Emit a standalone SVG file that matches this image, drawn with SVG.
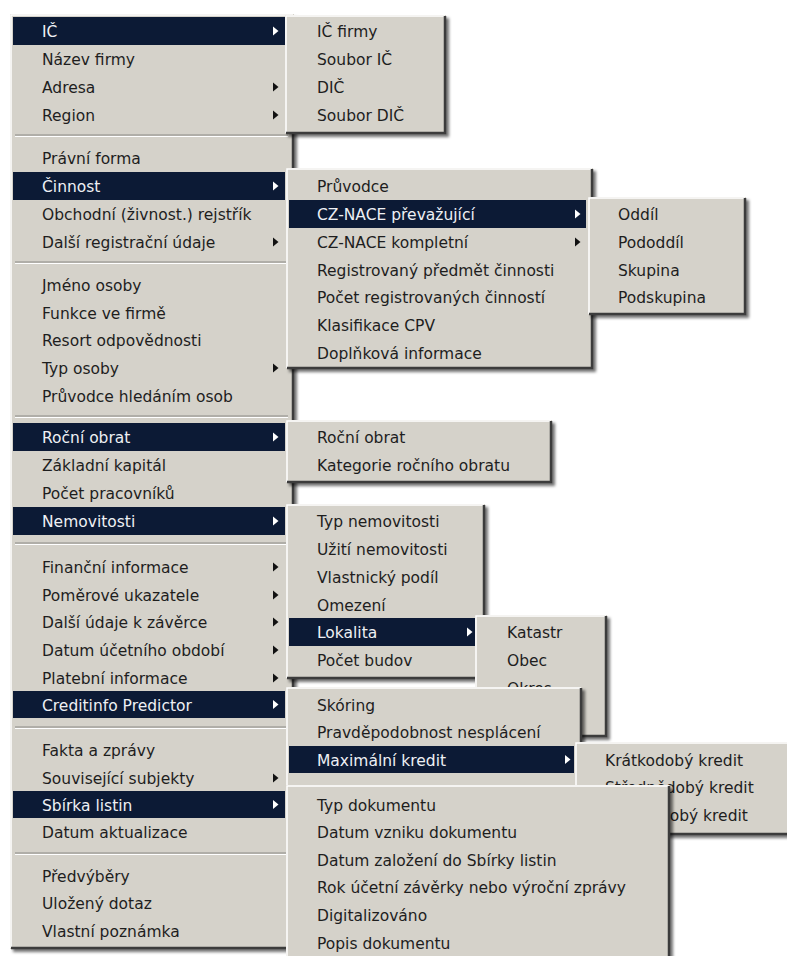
<svg xmlns="http://www.w3.org/2000/svg" width="787" height="956" viewBox="0 0 787 956">
<defs>
<style>
.box{fill:#d5d2ca;filter:url(#sh)}
.lt{fill:none;stroke:#ffffff;stroke-width:1.5}
.dk{fill:none;stroke:#3c3c3c;stroke-width:2.5}
.hl{fill:#0c1a35}
.sep1{stroke:#8c8a86;stroke-width:1.2}
.sep2{stroke:#ffffff;stroke-width:1}
.t{font-family:"DejaVu Sans",Verdana,sans-serif;font-size:15.5px;fill:#1e1e1e}
.w{fill:#eef0f4}
.ar{fill:#111111}
.aw{fill:#ffffff}
</style>
<filter id="sh" x="-5%" y="-5%" width="115%" height="115%">
<feDropShadow dx="3" dy="3" stdDeviation="1.6" flood-color="#000" flood-opacity="0.55"/>
</filter>
</defs>
<rect width="787" height="956" fill="#ffffff"/>

<g id="menu-main">
<rect class="box" x="10" y="14" width="284" height="935"/>
<path class="lt" d="M11,948 V15 H293"/>
<path class="dk" d="M293,15 V948 H11"/>
<rect class="hl" x="13" y="17" width="272" height="28"/>
<rect class="hl" x="13" y="172" width="272" height="28"/>
<rect class="hl" x="13" y="423" width="272" height="28"/>
<rect class="hl" x="13" y="507" width="272" height="28"/>
<rect class="hl" x="13" y="691" width="272" height="27"/>
<rect class="hl" x="13" y="791" width="272" height="27"/>
<g>
<line class="sep1" x1="15" y1="135" x2="288" y2="135"/><line class="sep2" x1="15" y1="136.5" x2="288" y2="136.5"/>
<line class="sep1" x1="15" y1="262" x2="288" y2="262"/><line class="sep2" x1="15" y1="263.5" x2="288" y2="263.5"/>
<line class="sep1" x1="15" y1="416" x2="288" y2="416"/><line class="sep2" x1="15" y1="417.5" x2="288" y2="417.5"/>
<line class="sep1" x1="15" y1="543" x2="288" y2="543"/><line class="sep2" x1="15" y1="544.5" x2="288" y2="544.5"/>
<line class="sep1" x1="15" y1="727" x2="288" y2="727"/><line class="sep2" x1="15" y1="728.5" x2="288" y2="728.5"/>
<line class="sep1" x1="15" y1="853" x2="288" y2="853"/><line class="sep2" x1="15" y1="854.5" x2="288" y2="854.5"/>
</g>
<text class="t w" x="42" y="37">IČ</text>
<text class="t" x="42" y="65">Název firmy</text>
<text class="t" x="42" y="93">Adresa</text>
<text class="t" x="42" y="121">Region</text>
<text class="t" x="42" y="164">Právní forma</text>
<text class="t w" x="42" y="192">Činnost</text>
<text class="t" x="42" y="220">Obchodní (živnost.) rejstřík</text>
<text class="t" x="42" y="248">Další registrační údaje</text>
<text class="t" x="42" y="291">Jméno osoby</text>
<text class="t" x="42" y="319">Funkce ve firmě</text>
<text class="t" x="42" y="346">Resort odpovědnosti</text>
<text class="t" x="42" y="374">Typ osoby</text>
<text class="t" x="42" y="402">Průvodce hledáním osob</text>
<text class="t w" x="42" y="443">Roční obrat</text>
<text class="t" x="42" y="471">Základní kapitál</text>
<text class="t" x="42" y="499">Počet pracovníků</text>
<text class="t w" x="42" y="527">Nemovitosti</text>
<text class="t" x="42" y="573">Finanční informace</text>
<text class="t" x="42" y="601">Poměrové ukazatele</text>
<text class="t" x="42" y="628">Další údaje k závěrce</text>
<text class="t" x="42" y="656">Datum účetního období</text>
<text class="t" x="42" y="684">Platební informace</text>
<text class="t w" x="42" y="711">Creditinfo Predictor</text>
<text class="t" x="42" y="756">Fakta a zprávy</text>
<text class="t" x="42" y="784">Související subjekty</text>
<text class="t w" x="42" y="811">Sbírka listin</text>
<text class="t" x="42" y="838">Datum aktualizace</text>
<text class="t" x="42" y="882">Předvýběry</text>
<text class="t" x="42" y="909">Uložený dotaz</text>
<text class="t" x="42" y="937">Vlastní poznámka</text>
<path class="aw" d="M273,26.5 L278.5,31 L273,35.5 Z"/>
<path class="ar" d="M273,82.5 L278.5,87 L273,91.5 Z"/>
<path class="ar" d="M273,110.5 L278.5,115 L273,119.5 Z"/>
<path class="aw" d="M273,181.5 L278.5,186 L273,190.5 Z"/>
<path class="ar" d="M273,237.5 L278.5,242 L273,246.5 Z"/>
<path class="ar" d="M273,363.5 L278.5,368 L273,372.5 Z"/>
<path class="aw" d="M273,432.5 L278.5,437 L273,441.5 Z"/>
<path class="aw" d="M273,516.5 L278.5,521 L273,525.5 Z"/>
<path class="ar" d="M273,562.5 L278.5,567 L273,571.5 Z"/>
<path class="ar" d="M273,590.5 L278.5,595 L273,599.5 Z"/>
<path class="ar" d="M273,617.5 L278.5,622 L273,626.5 Z"/>
<path class="ar" d="M273,645.5 L278.5,650 L273,654.5 Z"/>
<path class="ar" d="M273,673.5 L278.5,678 L273,682.5 Z"/>
<path class="aw" d="M273,700 L278.5,704.5 L273,709 Z"/>
<path class="ar" d="M273,773.5 L278.5,778 L273,782.5 Z"/>
<path class="aw" d="M273,800 L278.5,804.5 L273,809 Z"/>
</g>

<g id="menu-ic">
<rect class="box" x="285" y="15" width="161" height="119"/>
<path class="lt" d="M286,133 V16 H445"/>
<path class="dk" d="M445,16 V133 H286"/>
<text class="t" x="317" y="37">IČ firmy</text>
<text class="t" x="317" y="65">Soubor IČ</text>
<text class="t" x="317" y="93">DIČ</text>
<text class="t" x="317" y="121">Soubor DIČ</text>
</g>

<g id="menu-cinnost">
<rect class="box" x="286" y="168" width="307" height="201"/>
<path class="lt" d="M287,368 V169 H592"/>
<path class="dk" d="M592,169 V368 H287"/>
<rect class="hl" x="289" y="200" width="297" height="28"/>
<text class="t" x="317" y="192">Průvodce</text>
<text class="t w" x="317" y="220">CZ-NACE převažující</text>
<text class="t" x="317" y="248">CZ-NACE kompletní</text>
<text class="t" x="317" y="276">Registrovaný předmět činnosti</text>
<text class="t" x="317" y="303">Počet registrovaných činností</text>
<text class="t" x="317" y="331">Klasifikace CPV</text>
<text class="t" x="317" y="359">Doplňková informace</text>
<path class="aw" d="M575,209.5 L580.5,214 L575,218.5 Z"/>
<path class="ar" d="M575,237.5 L580.5,242 L575,246.5 Z"/>
</g>

<g id="menu-nace">
<rect class="box" x="588" y="197" width="158" height="118"/>
<path class="lt" d="M589,314 V198 H745"/>
<path class="dk" d="M745,198 V314 H589"/>
<text class="t" x="618" y="220">Oddíl</text>
<text class="t" x="618" y="248">Pododdíl</text>
<text class="t" x="618" y="276">Skupina</text>
<text class="t" x="618" y="303">Podskupina</text>
</g>

<g id="menu-obrat">
<rect class="box" x="286" y="420" width="266" height="63"/>
<path class="lt" d="M287,482 V421 H551"/>
<path class="dk" d="M551,421 V482 H287"/>
<text class="t" x="317" y="443">Roční obrat</text>
<text class="t" x="317" y="471">Kategorie ročního obratu</text>
</g>

<g id="menu-nemovitosti">
<rect class="box" x="286" y="504" width="199" height="175"/>
<path class="lt" d="M287,678 V505 H484"/>
<path class="dk" d="M484,505 V678 H287"/>
<rect class="hl" x="289" y="618" width="187" height="28"/>
<text class="t" x="317" y="527">Typ nemovitosti</text>
<text class="t" x="317" y="555">Užití nemovitosti</text>
<text class="t" x="317" y="583">Vlastnický podíl</text>
<text class="t" x="317" y="611">Omezení</text>
<text class="t w" x="317" y="638">Lokalita</text>
<text class="t" x="317" y="666">Počet budov</text>
<path class="aw" d="M467,627.5 L472.5,632 L467,636.5 Z"/>
</g>

<g id="menu-lokalita">
<rect class="box" x="475" y="615" width="132" height="122"/>
<path class="lt" d="M476,736 V616 H606"/>
<path class="dk" d="M606,616 V736 H476"/>
<text class="t" x="507" y="638">Katastr</text>
<text class="t" x="507" y="666">Obec</text>
<text class="t" x="507" y="694">Okres</text>
</g>

<g id="menu-creditinfo">
<rect class="box" x="286" y="687" width="296" height="113"/>
<path class="lt" d="M287,799 V688 H581"/>
<path class="dk" d="M581,688 V799 H287"/>
<rect class="hl" x="289" y="746" width="285" height="27"/>
<text class="t" x="317" y="711">Skóring</text>
<text class="t" x="317" y="738">Pravděpodobnost nesplácení</text>
<text class="t w" x="317" y="766">Maximální kredit</text>
<path class="aw" d="M565,755 L570.5,759.5 L565,764 Z"/>
</g>

<g id="menu-kredit">
<rect class="box" x="575" y="742" width="220" height="93"/>
<path class="lt" d="M576,834 V743 H795"/>
<path class="dk" d="M795,743 V834 H576"/>
<text class="t" x="605" y="766">Krátkodobý kredit</text>
<text class="t" x="605" y="793">Střednědobý kredit</text>
<text class="t" x="605" y="821">Dlouhodobý kredit</text>
</g>

<g id="menu-sbirka">
<rect class="box" x="286" y="785" width="384" height="180"/>
<path class="lt" d="M287,964 V786 H669"/>
<path class="dk" d="M669,786 V964"/>
<text class="t" x="317" y="811">Typ dokumentu</text>
<text class="t" x="317" y="838">Datum vzniku dokumentu</text>
<text class="t" x="317" y="866">Datum založení do Sbírky listin</text>
<text class="t" x="317" y="893">Rok účetní závěrky nebo výroční zprávy</text>
<text class="t" x="317" y="921">Digitalizováno</text>
<text class="t" x="317" y="949">Popis dokumentu</text>
</g>

<g id="connectors"/>
</svg>
